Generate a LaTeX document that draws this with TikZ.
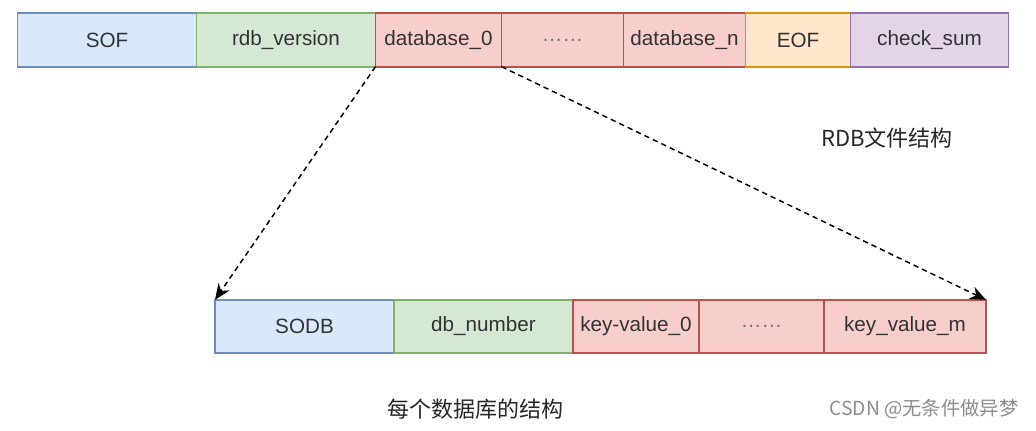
\documentclass[tikz,border=0pt]{standalone}
\usepackage{fontspec}
\setmainfont{Liberation Sans}
\newfontfamily\cjkfont{Noto Sans CJK SC}
\usetikzlibrary{positioning,arrows.meta}
\definecolor{blueF}{HTML}{DAE8FC}
\definecolor{blueD}{HTML}{6C8EBF}
\definecolor{greenF}{HTML}{D5E8D4}
\definecolor{greenD}{HTML}{82B366}
\definecolor{redF}{HTML}{F8CECC}
\definecolor{redD}{HTML}{B85450}
\definecolor{orangeF}{HTML}{FFE6CC}
\definecolor{orangeD}{HTML}{D79B00}
\definecolor{purpleF}{HTML}{E1D5E7}
\definecolor{purpleD}{HTML}{9673A6}

\begin{document}
\begin{tikzpicture}[x=0.75pt,y=-0.75pt,
  cell/.style={draw,line width=1.3pt,outer sep=0pt,inner sep=0pt,minimum height=40pt,
    font=\fontsize{15.5}{18}\selectfont,text=black!80},
  bluecell/.style={cell,fill=blueF,draw=blueD},
  greencell/.style={cell,fill=greenF,draw=greenD},
  redcell/.style={cell,fill=redF,draw=redD},
  orangecell/.style={cell,fill=orangeF,draw=orangeD},
  purplecell/.style={cell,fill=purpleF,draw=purpleD},
  link/.style={dashed,dash pattern=on 4pt off 3pt,line width=1.1pt,-{Stealth[length=12pt,width=10pt]}},
  caption/.style={font=\cjkfont\fontsize{16.5}{19}\selectfont,text=black!85}]
\useasboundingbox (0,0) rectangle (1036,431);

\node[bluecell,anchor=west,minimum width=134.25pt] (sof) at (17.5,40) {SOF};
\node[greencell,right=0pt of sof,minimum width=134.25pt] (rdbversion) {rdb\_version};
\node[redcell,right=0pt of rdbversion,minimum width=94.5pt] (db0) {database\_0};
\node[redcell,right=0pt of db0,minimum width=91.5pt] (dbdots) {\textcolor{black!55}{……}};
\node[redcell,right=0pt of dbdots,minimum width=91.5pt] (dbn) {database\_n};
\node[orangecell,right=0pt of dbn,minimum width=78.75pt] (eof) {EOF};
\node[purplecell,right=0pt of eof,minimum width=118.5pt] (checksum) {check\_sum};

\node[bluecell,anchor=west,minimum width=134.25pt] (sodb) at (215,326.5) {SODB};
\node[greencell,right=0pt of sodb,minimum width=134.25pt] (dbnumber) {db\_number};
\node[redcell,right=0pt of dbnumber,minimum width=94.5pt] (kv0) {key-value\_0};
\node[redcell,right=0pt of kv0,minimum width=93.75pt] (kvdots) {\textcolor{black!55}{……}};
\node[redcell,right=0pt of kvdots,minimum width=121.5pt] (kvm) {key\_value\_m};

\draw[link] (db0.south west) -- (sodb.north west);
\draw[link] (db0.south east) -- (kvm.north east);

\node[caption] (rdbcap) at (887,138) {RDB文件结构};
\node[caption] (dbcap) at (475,409) {每个数据库的结构};
\node[caption,font=\cjkfont\fontsize{14.5}{17}\selectfont,text=black!45] (mark) at (924,409) {CSDN @无条件做异梦};
\end{tikzpicture}
\end{document}
